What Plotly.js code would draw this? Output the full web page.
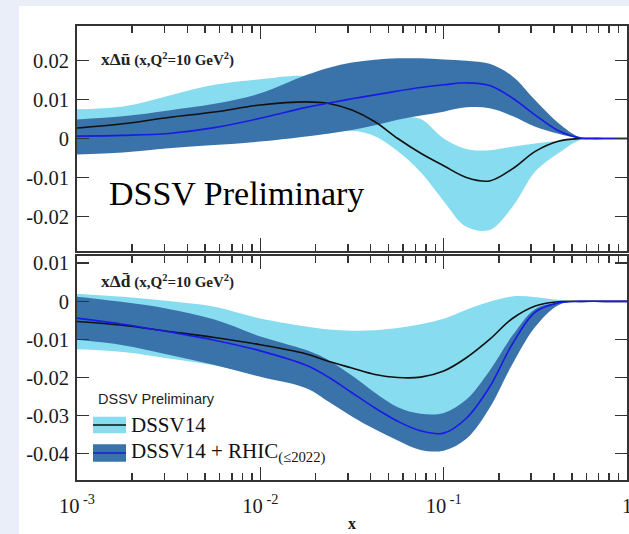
<!DOCTYPE html>
<html>
<head>
<meta charset="utf-8">
<script src="https://cdn.plot.ly/plotly-3.0.1.min.js"></script>
<style>
  html, body { margin:0; padding:0; background:#e9eef8; width:629px; height:534px; overflow:hidden; }
  #chart { position:absolute; left:19px; top:6px; width:610px; height:528px; background:#fff; }
</style>
</head>
<body>
<div id="chart"></div>
<script>
// x grid (Bjorken x)
const xVals = [0.001, 0.00178, 0.00316, 0.00562, 0.01, 0.0178, 0.0237, 0.0316, 0.0422, 0.0562, 0.075, 0.1, 0.133, 0.178, 0.237, 0.316, 0.422, 0.562, 0.75, 1];

// top panel: x Δū
const ubarDSSV14   = [0.0027,0.0038,0.0054,0.0068,0.0086,0.0094,0.0090,0.0073,0.0043,0.0000,-0.0038,-0.0070,-0.0100,-0.0109,-0.0078,-0.0033,-0.0007,0,0,0];
const ubarDSSV14Hi = [0.0075,0.0082,0.0110,0.0138,0.0152,0.0160,0.0140,0.0105,0.0078,0.0058,0.0050,0.0000,-0.0027,-0.0030,-0.0021,-0.0013,-0.0006,0,0,0];
const ubarDSSV14Lo = [-0.0030,-0.0026,-0.0018,-0.0010,-0.0002,0.0008,0.0013,0.0020,0.0006,-0.0033,-0.0087,-0.0161,-0.0227,-0.0235,-0.0176,-0.0085,-0.0038,-0.0003,0,0];
const ubarRHIC     = [0.0006,0.0008,0.0013,0.0028,0.0052,0.0080,0.0091,0.0102,0.0112,0.0122,0.0131,0.0138,0.0143,0.0136,0.0104,0.0060,0.0020,0.0001,0,0];
const ubarRHICHi   = [0.0049,0.0057,0.0072,0.0089,0.0116,0.0163,0.0182,0.0195,0.0202,0.0206,0.0206,0.0203,0.0200,0.0192,0.0160,0.0098,0.0040,0.0002,0,0];
const ubarRHICLo   = [-0.0041,-0.0036,-0.0025,-0.0017,-0.0008,0.0005,0.0013,0.0022,0.0034,0.0048,0.0059,0.0069,0.0080,0.0078,0.0058,0.0030,0.0012,0,0,0];

// bottom panel: x Δd̄
const dbarDSSV14   = [-0.0053,-0.0063,-0.0079,-0.0095,-0.0114,-0.0138,-0.0158,-0.0175,-0.0192,-0.0200,-0.0199,-0.0183,-0.0148,-0.0100,-0.0045,-0.0012,-0.0001,0,0,0];
const dbarDSSV14Hi = [0.0020,0.0012,0.0001,-0.0014,-0.0045,-0.0066,-0.0074,-0.0077,-0.0076,-0.0070,-0.0060,-0.0046,-0.0022,-0.0001,0.0013,0.0011,0.0004,0,0,0];
const dbarDSSV14Lo = [-0.0126,-0.0133,-0.0150,-0.0168,-0.0195,-0.0220,-0.0255,-0.0290,-0.0320,-0.0340,-0.0350,-0.0340,-0.0300,-0.0230,-0.0130,-0.0040,-0.0006,0,0,0];
const dbarRHIC     = [-0.0044,-0.0060,-0.0080,-0.0102,-0.0130,-0.0168,-0.0200,-0.0240,-0.0280,-0.0315,-0.0340,-0.0346,-0.0307,-0.0225,-0.0112,-0.0028,-0.0004,0,0,0];
const dbarRHICHi   = [0.0012,-0.0002,-0.0020,-0.0048,-0.0092,-0.0128,-0.0155,-0.0195,-0.0240,-0.0278,-0.0295,-0.0293,-0.0258,-0.0182,-0.0090,-0.0020,-0.0003,0,0,0];
const dbarRHICLo   = [-0.0101,-0.0115,-0.0140,-0.0167,-0.0198,-0.0228,-0.0264,-0.0302,-0.0336,-0.0365,-0.0390,-0.0392,-0.0361,-0.0280,-0.0165,-0.0067,-0.0010,0,0,0];

// ticks
const xTickVals = [0.001, 0.01, 0.1, 1];
const xTickText = ['10<sup> -3</sup>', '10<sup> -2</sup>', '10<sup> -1</sup>', '1'];
const xMinorVals = [0.002,0.003,0.004,0.005,0.006,0.007,0.008,0.009,0.02,0.03,0.04,0.05,0.06,0.07,0.08,0.09,0.2,0.3,0.4,0.5,0.6,0.7,0.8,0.9];
const yTopVals = [-0.02, -0.01, 0, 0.01, 0.02];
const yTopText = ['-0.02', '-0.01', '0', '0.01', '0.02'];
const yBotVals = [-0.04, -0.03, -0.02, -0.01, 0, 0.01];
const yBotText = ['-0.04', '-0.03', '-0.02', '-0.01', '0', '0.01'];

const LIGHT = '#87dcf0';
const DARK = '#3a73aa';
const BLUE = '#1a1ae6';
const BLACK = '#111111';
const sp = {shape:'spline', smoothing:1};

function band(lo, hi, color, xa, ya) {
  return [
    {x:xVals, y:lo, mode:'lines', line:Object.assign({width:0, color:color}, sp), xaxis:xa, yaxis:ya, hoverinfo:'skip'},
    {x:xVals, y:hi, mode:'lines', line:Object.assign({width:0, color:color}, sp), fill:'tonexty', fillcolor:color, xaxis:xa, yaxis:ya, hoverinfo:'skip'}
  ];
}
function curve(y, color, xa, ya) {
  return {x:xVals, y:y, mode:'lines', line:Object.assign({width:1.6, color:color}, sp), xaxis:xa, yaxis:ya};
}

const traces = [].concat(
  band(ubarDSSV14Lo, ubarDSSV14Hi, LIGHT, 'x2', 'y2'),
  band(ubarRHICLo, ubarRHICHi, DARK, 'x2', 'y2'),
  [curve(ubarDSSV14, BLACK, 'x2', 'y2'), curve(ubarRHIC, BLUE, 'x2', 'y2')],
  band(dbarDSSV14Lo, dbarDSSV14Hi, LIGHT, 'x', 'y'),
  band(dbarRHICLo, dbarRHICHi, DARK, 'x', 'y'),
  [curve(dbarDSSV14, BLACK, 'x', 'y'), curve(dbarRHIC, BLUE, 'x', 'y')]
);

const AX = '#333333';
const serif = 'Liberation Serif, Times New Roman, serif';
const tickFont = {family: serif, size: 20.5, color: '#1a1a1a'};

function xAxis(extra) {
  return Object.assign({
    type:'log', range:[-3, 0], domain:[0,1],
    tickmode:'array', tickvals:xTickVals, ticktext:xTickText,
    ticks:'inside', ticklen:13, tickwidth:1.5, tickcolor:AX,
    showline:true, linecolor:AX, linewidth:2, mirror:'allticks',
    showgrid:false, zeroline:false, tickfont:tickFont, ticklabeloverflow:'allow',
    minor:{tickmode:'array', tickvals:xMinorVals, ticks:'inside', ticklen:7, tickwidth:1.5, tickcolor:AX, showgrid:false}
  }, extra);
}
function yAxis(extra) {
  return Object.assign({
    tickmode:'array', ticks:'inside', ticklen:12, tickwidth:1.5, tickcolor:AX,
    showline:true, linecolor:AX, linewidth:2, mirror:'allticks',
    showgrid:false, zeroline:false, tickfont:tickFont, ticklabelstandoff:2
  }, extra);
}

const layout = {
  width:610, height:528,
  margin:{l:58, r:2, t:20, b:54},
  paper_bgcolor:'#ffffff', plot_bgcolor:'#ffffff',
  showlegend:false,
  xaxis: xAxis({anchor:'y', ticklabelstandoff:6,
    title:{text:'<b>x</b>', font:{family:serif, size:16, color:'#1a1a1a'}, standoff:2}}),
  yaxis: yAxis({anchor:'x', domain:[0, 0.4934], range:[-0.0469, 0.0119], tickvals:yBotVals, ticktext:yBotText}),
  xaxis2: xAxis({anchor:'y2', showticklabels:false}),
  yaxis2: yAxis({anchor:'x2', domain:[0.5044, 1], range:[-0.0289, 0.0289], tickvals:yTopVals, ticktext:yTopText}),
  shapes: [
    {type:'rect', xref:'paper', yref:'paper', x0:0.0291, x1:0.0891, y0:0.1029, y1:0.1394, fillcolor:LIGHT, line:{width:0}},
    {type:'line', xref:'paper', yref:'paper', x0:0.0291, x1:0.0891, y0:0.1211, y1:0.1211, line:{color:BLACK, width:1.6}},
    {type:'rect', xref:'paper', yref:'paper', x0:0.0291, x1:0.0891, y0:0.0403, y1:0.0786, fillcolor:DARK, line:{width:0}},
    {type:'line', xref:'paper', yref:'paper', x0:0.0291, x1:0.0891, y0:0.0595, y1:0.0595, line:{color:BLUE, width:1.6}}
  ],
  annotations: [
    {xref:'paper', yref:'paper', x:0.040, y:0.927, xanchor:'left', yanchor:'middle', showarrow:false,
     text:'<b>xΔū</b><span style="font-size:15px"><b> (x,Q<sup>2</sup>=10 GeV<sup>2</sup>)</b></span>',
     font:{family:serif, size:17.5, color:'#222'}},
    {xref:'paper', yref:'paper', x:0.040, y:0.438, xanchor:'left', yanchor:'middle', showarrow:false,
     text:'<b>xΔd\u0304</b><span style="font-size:15px"><b> (x,Q<sup>2</sup>=10 GeV<sup>2</sup>)</b></span>',
     font:{family:serif, size:17.5, color:'#222'}},
    {xref:'paper', yref:'paper', x:0.054, y:0.632, xanchor:'left', yanchor:'middle', showarrow:false,
     text:'DSSV Preliminary', font:{family:serif, size:34, color:'#000'}},
    {xref:'paper', yref:'paper', x:0.034, y:0.178, xanchor:'left', yanchor:'middle', showarrow:false,
     text:'DSSV Preliminary', font:{family:'Liberation Sans, Arial, sans-serif', size:14.5, color:'#222'}},
    {xref:'paper', yref:'paper', x:0.094, y:0.1211, xanchor:'left', yanchor:'middle', showarrow:false,
     text:'DSSV14', font:{family:serif, size:21, color:'#111'}},
    {xref:'paper', yref:'paper', x:0.094, y:0.0595, xanchor:'left', yanchor:'middle', showarrow:false,
     text:'DSSV14 + RHIC<sub>(≤2022)</sub>', font:{family:serif, size:21, color:'#111'}}
  ]
};

Plotly.newPlot('chart', traces, layout, {staticPlot:true, displayModeBar:false});
</script>
</body>
</html>
